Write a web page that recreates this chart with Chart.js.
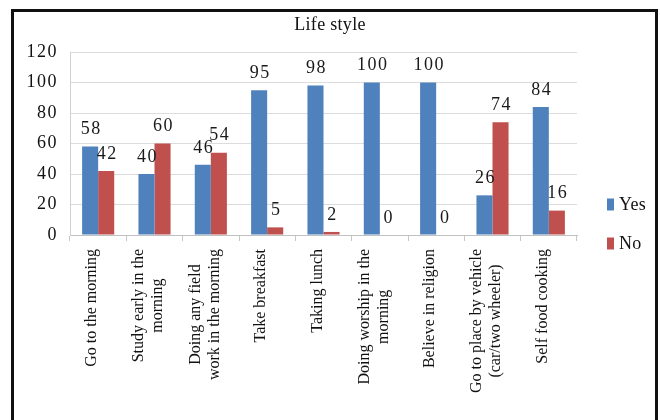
<!DOCTYPE html>
<html>
<head>
<meta charset="utf-8">
<title>Life style</title>
<script src="https://cdn.jsdelivr.net/npm/chart.js@4/dist/chart.umd.min.js"></script>
<style>
  html, body { margin: 0; padding: 0; background: #ffffff; }
  #wrap { position: relative; width: 660px; height: 420px; overflow: hidden; }
  #frame {
    position: absolute; left: 11px; top: 9px; width: 641px; height: 500px;
    border: 3px solid #111111; border-bottom: none; pointer-events: none;
  }
  canvas { position: absolute; left: 0; top: 0; }
</style>
</head>
<body>
<div id="wrap">
  <canvas id="chart" width="660" height="420"></canvas>
  <div id="frame"></div>
</div>
<script>
// Survey categories (each entry is one wrapped label, one line per element)
const categories = [
  ["Go to the morning"],
  ["Study early in the", "morning"],
  ["Doing any field", "work in the morning"],
  ["Take breakfast"],
  ["Taking lunch"],
  ["Doing worship in the", "morning"],
  ["Believe in religion"],
  ["Go to place by vehicle", "(car/two wheeler)"],
  ["Self food cooking"]
];

// Percentages answering yes / no
const yesValues = [58, 40, 46, 95, 98, 100, 100, 26, 84];
const noValues  = [42, 60, 54, 5, 2, 0, 0, 74, 16];

// Value axis ticks
const yTicks = [0, 20, 40, 60, 80, 100, 120];

const chartTitle = 'Life style';

const SERIF = '"Liberation Serif", "Times New Roman", serif';
const BLUE = '#4F81BD';
const RED = '#C0504D';

// Slightly spread digits for the numeric text (axis ticks and bar values)
const digitSpacing = {
  id: 'digitSpacing',
  beforeDraw(chart) { chart.ctx.letterSpacing = '1.5px'; }
};

// Numbers printed above each bar
const barValueLabels = {
  id: 'barValueLabels',
  afterDatasetsDraw(chart) {
    const ctx = chart.ctx;
    ctx.save();
    ctx.letterSpacing = '1.5px';
    ctx.font = '18px ' + SERIF;
    ctx.fillStyle = '#1a1a1a';
    ctx.textAlign = 'center';
    ctx.textBaseline = 'middle';
    chart.data.datasets.forEach((ds, i) => {
      const meta = chart.getDatasetMeta(i);
      meta.data.forEach((bar, j) => {
        ctx.fillText(String(ds.data[j]), bar.x + 1, bar.y - 17);
      });
    });
    ctx.restore();
  }
};

// Vertical, centred, multi-line category labels under the axis
const categoryLabels = {
  id: 'categoryLabels',
  afterDraw(chart) {
    const ctx = chart.ctx;
    const xScale = chart.scales.x;
    const lineH = 19;
    const top = xScale.top + 14;
    ctx.save();
    ctx.letterSpacing = '0px';
    ctx.font = '16px ' + SERIF;
    ctx.fillStyle = '#111111';
    ctx.textAlign = 'center';
    ctx.textBaseline = 'middle';
    categories.forEach((lines, i) => {
      const cx = xScale.getPixelForValue(i) - 6;
      const maxW = Math.max(...lines.map(l => ctx.measureText(l).width));
      const cy = top + maxW / 2;
      ctx.save();
      ctx.translate(cx, cy);
      ctx.rotate(-Math.PI / 2);
      lines.forEach((line, k) => {
        const dy = (k - (lines.length - 1) / 2) * lineH;
        ctx.fillText(line, 0, dy);
      });
      ctx.restore();
    });
    ctx.restore();
  }
};

// Title centred across the whole figure
const centredTitle = {
  id: 'centredTitle',
  afterDraw(chart) {
    const ctx = chart.ctx;
    ctx.save();
    ctx.letterSpacing = '0.3px';
    ctx.font = '18px ' + SERIF;
    ctx.fillStyle = '#111111';
    ctx.textAlign = 'center';
    ctx.textBaseline = 'middle';
    ctx.fillText(chartTitle, chart.width / 2, 25);
    ctx.restore();
  }
};

// Legend with small upright swatches to the right of the plot
const sideLegend = {
  id: 'sideLegend',
  afterDraw(chart) {
    const ctx = chart.ctx;
    const x0 = chart.chartArea.right + 30;
    const yMid = (chart.chartArea.top + chart.chartArea.bottom) / 2;
    ctx.save();
    ctx.letterSpacing = '0.3px';
    ctx.font = '18px ' + SERIF;
    ctx.textBaseline = 'middle';
    ctx.textAlign = 'left';
    chart.data.datasets.forEach((ds, i) => {
      const y = yMid + 61 + i * 39;
      ctx.fillStyle = ds.backgroundColor;
      ctx.fillRect(x0, y - 6, 7, 12);
      ctx.fillStyle = '#111111';
      ctx.fillText(ds.label, x0 + 12, y + 1);
    });
    ctx.restore();
  }
};

new Chart(document.getElementById('chart'), {
  type: 'bar',
  data: {
    labels: categories,
    datasets: [
      { label: 'Yes', data: yesValues, backgroundColor: BLUE, barPercentage: 1.0, categoryPercentage: 0.57 },
      { label: 'No',  data: noValues,  backgroundColor: RED,  barPercentage: 1.0, categoryPercentage: 0.57 }
    ]
  },
  options: {
    responsive: false,
    animation: false,
    layout: { padding: { left: 0, right: 83, top: 52, bottom: 179 } },
    plugins: {
      legend: { display: false },
      tooltip: { enabled: false },
      title: { display: false }
    },
    scales: {
      x: {
        grid: { display: true, offset: true, drawOnChartArea: false, drawTicks: true, tickLength: 6, color: '#c8c8c8' },
        border: { display: true, color: '#c0c0c0' },
        ticks: { display: false }
      },
      y: {
        min: 0,
        max: 120,
        afterFit(scale) { scale.width = 70; },
        afterBuildTicks(scale) { scale.ticks = yTicks.map(v => ({ value: v })); },
        grid: { color: '#dcdcdc', drawTicks: false },
        border: { display: true, color: '#d0d0d0' },
        ticks: {
          color: '#111111',
          padding: 12,
          font: { family: SERIF, size: 18 }
        }
      }
    }
  },
  plugins: [digitSpacing, barValueLabels, categoryLabels, centredTitle, sideLegend]
});
</script>
</body>
</html>
